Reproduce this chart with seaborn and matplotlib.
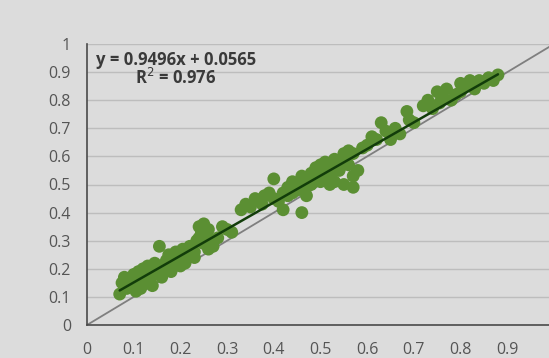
import seaborn as sns
import matplotlib.pyplot as plt
import pandas as pd

x_vals = [0.07, 0.075, 0.08, 0.085, 0.09, 0.095, 0.10, 0.10, 0.105, 0.11,
          0.11, 0.115, 0.12, 0.12, 0.125, 0.13, 0.13, 0.135, 0.14, 0.14,
          0.145, 0.15, 0.155, 0.16, 0.16, 0.165, 0.17, 0.17, 0.175, 0.18,
          0.18, 0.185, 0.19, 0.19, 0.20, 0.20, 0.205, 0.21, 0.21, 0.215,
          0.22, 0.22, 0.23, 0.23, 0.235, 0.24, 0.24, 0.245, 0.25, 0.25,
          0.255, 0.26, 0.26, 0.265, 0.27, 0.27, 0.28, 0.29, 0.30, 0.31,
          0.33, 0.34, 0.35, 0.36, 0.37, 0.375, 0.38, 0.39, 0.40, 0.40,
          0.41, 0.42, 0.42, 0.43, 0.43, 0.44, 0.44, 0.45, 0.45, 0.46,
          0.46, 0.47, 0.47, 0.48, 0.48, 0.49, 0.49, 0.50, 0.50, 0.51,
          0.51, 0.52, 0.52, 0.53, 0.53, 0.54, 0.54, 0.55, 0.55, 0.56,
          0.56, 0.57, 0.57, 0.58, 0.59, 0.60, 0.61, 0.62, 0.63, 0.64,
          0.65, 0.66, 0.67, 0.685, 0.69, 0.70, 0.72, 0.73, 0.74, 0.75,
          0.755, 0.76, 0.77, 0.78, 0.79, 0.80, 0.80, 0.81, 0.82, 0.83,
          0.83, 0.84, 0.85, 0.86, 0.87, 0.88,
          0.47, 0.52, 0.57, 0.50, 0.55]
y_vals = [0.11, 0.15, 0.17, 0.13, 0.16, 0.14, 0.18, 0.15, 0.12, 0.19,
          0.16, 0.13, 0.20, 0.17, 0.15, 0.21, 0.18, 0.16, 0.20, 0.14,
          0.22, 0.19, 0.28, 0.21, 0.17, 0.19, 0.23, 0.20, 0.25, 0.22,
          0.19, 0.21, 0.26, 0.23, 0.24, 0.21, 0.27, 0.24, 0.22, 0.26,
          0.25, 0.28, 0.26, 0.24, 0.30, 0.35, 0.31, 0.33, 0.36, 0.29,
          0.32, 0.34, 0.27, 0.30, 0.30, 0.28, 0.31, 0.35, 0.34, 0.33,
          0.41, 0.43, 0.42, 0.45, 0.44, 0.43, 0.46, 0.47, 0.52, 0.45,
          0.44, 0.47, 0.41, 0.49, 0.46, 0.51, 0.47, 0.50, 0.48, 0.53,
          0.40, 0.52, 0.49, 0.54, 0.50, 0.56, 0.52, 0.55, 0.51, 0.58,
          0.53, 0.57, 0.54, 0.59, 0.51, 0.58, 0.55, 0.60, 0.50, 0.62,
          0.57, 0.61, 0.49, 0.55, 0.63, 0.64, 0.67, 0.66, 0.72, 0.69,
          0.66, 0.70, 0.68, 0.76, 0.73, 0.72, 0.78, 0.80, 0.77, 0.83,
          0.79, 0.81, 0.84, 0.80, 0.82, 0.86, 0.83, 0.85, 0.87, 0.86,
          0.84, 0.87, 0.86, 0.88, 0.87, 0.89,
          0.46, 0.50, 0.53, 0.57, 0.61]

slope = 0.9496
intercept = 0.0565
r2 = 0.976

x_ticks = [0, 0.1, 0.2, 0.3, 0.4, 0.5, 0.6, 0.7, 0.8, 0.9]
y_ticks = [0, 0.1, 0.2, 0.3, 0.4, 0.5, 0.6, 0.7, 0.8, 0.9, 1]

df = pd.DataFrame({"x": x_vals, "y": y_vals})
x_ends = [min(x_vals), max(x_vals)]
trend = pd.DataFrame({"x": x_ends, "y": [slope * v + intercept for v in x_ends]})
diag = pd.DataFrame({"x": [0, 1], "y": [0, 1]})

sns.set_style("white")
plt.rcParams['font.family'] = ['Open Sans', 'DejaVu Sans']
bg = "#dcdcdc"

fig = plt.figure(figsize=(5.49, 3.58), dpi=100, facecolor=bg)
# plot area runs past the right edge, as in the cropped original
ax = fig.add_axes([87 / 549, 33 / 358, 467 / 549, 281 / 358])
ax.set_facecolor(bg)

sns.lineplot(data=diag, x="x", y="y", color="#7f7f7f", lw=1.3, ax=ax, zorder=1)
sns.scatterplot(data=df, x="x", y="y", color="#5b8f33", s=85, edgecolor="none",
                ax=ax, zorder=2)
sns.lineplot(data=trend, x="x", y="y", color="#123d0a", lw=1.8, ax=ax, zorder=3)

ax.set_xlim(0, 1)
ax.set_ylim(0, 1)
ax.set_xticks(x_ticks)
ax.set_yticks(y_ticks)
ax.set_xticklabels([f"{v:g}" for v in x_ticks])
ax.set_yticklabels([f"{v:g}" for v in y_ticks])
ax.yaxis.grid(True, color="#bdbdbd", lw=1)
ax.set_axisbelow(True)
ax.set_xlabel("")
ax.set_ylabel("")

for s in ["top", "right"]:
    ax.spines[s].set_visible(False)
for s in ["left", "bottom"]:
    ax.spines[s].set_color("#4a4a4a")
    ax.spines[s].set_linewidth(1.2)
ax.tick_params(axis="both", direction="inout", length=7, width=1.2,
               color="#4a4a4a", labelsize=11.5, labelcolor="#555555")
ax.tick_params(axis="x", pad=9)
ax.tick_params(axis="y", pad=8)

ax.text(0.19, 0.943, f"y = {slope}x + {intercept}", ha="center", va="center",
        fontsize=12, fontweight="bold", color="#3a3a3a")
ax.text(0.19, 0.879, f"R$^2$ = {r2}", ha="center", va="center",
        fontsize=12, fontweight="bold", color="#3a3a3a")

fig.savefig("out.png", dpi=100, facecolor=bg)
